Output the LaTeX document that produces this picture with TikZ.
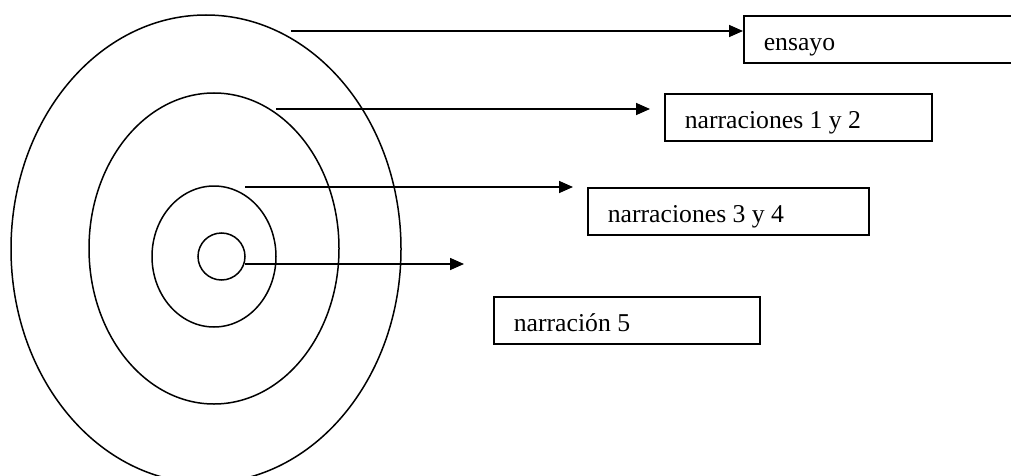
\documentclass[tikz,border=0pt]{standalone}
\usepackage{fontspec}
\setmainfont{Liberation Serif}
\usetikzlibrary{shapes.geometric,arrows.meta}
\tikzset{
  ring/.style={draw, ellipse, line width=1.5pt, inner sep=0pt},
  labelbox/.style={draw, line width=1.6pt, anchor=north west, inner sep=0pt,
    text height=35pt, text depth=12pt, font=\fontsize{25.7}{30}\selectfont},
  pointer/.style={line width=1.6pt, -{Triangle[length=14pt,width=12pt]}}
}
\newcommand{\boxtext}[2]{\makebox[#1][l]{\hspace*{20pt}#2}}
\begin{document}
\begin{tikzpicture}[x=1pt,y=-1pt]
\useasboundingbox (0,0) rectangle (1011,476);
\clip (0,0) rectangle (1011,476);
% rings
\node[ring, minimum width=390pt, minimum height=468pt] (r1) at (206,249) {};
\node[ring, minimum width=250pt, minimum height=311pt] (r2) at (214,248.5) {};
\node[ring, minimum width=124pt, minimum height=141pt] (r3) at (214,256.5) {};
\node[ring, minimum width=47pt, minimum height=47pt] (r4) at (221.5,256.5) {};
% boxes
\node[labelbox] (b1) at (743,15) {\boxtext{330pt}{ensayo}};
\node[labelbox] (b2) at (664,93) {\boxtext{267pt}{narraciones 1 y 2}};
\node[labelbox] (b3) at (587,187) {\boxtext{281pt}{narraciones 3 y 4}};
\node[labelbox] (b4) at (493,296) {\boxtext{266pt}{narración 5}};
% arrow ends
\coordinate (s1) at (291,31);
\coordinate (s2) at (276,109);
\coordinate (s3) at (245,187);
\coordinate (s4) at (245,264);
\coordinate (e2) at (650,109);
\coordinate (e3) at (573,187);
\coordinate (e4) at (464,264);
\draw[pointer] (s1) -- (s1 -| b1.west);
\draw[pointer] (s2) -- (e2);
\draw[pointer] (s3) -- (e3);
\draw[pointer] (s4) -- (e4);
\end{tikzpicture}
\end{document}
